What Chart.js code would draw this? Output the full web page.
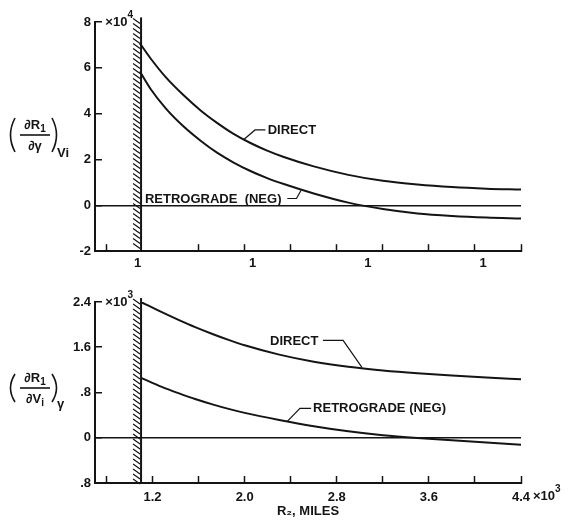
<!DOCTYPE html>
<html>
<head>
<meta charset="utf-8">
<script src="https://cdn.jsdelivr.net/npm/chart.js@4.4.1/dist/chart.umd.min.js"></script>
<style>
    html, body { margin: 0; padding: 0; background: #fff; }
    #wrap { position: relative; width: 569px; height: 525px; }
    .panel { position: absolute; left: 0; width: 569px; }
    #top { top: 0; height: 270px; }
    #bottom { top: 270px; height: 255px; }
</style>
</head>
<body>
<div id="wrap">
    <div class="panel" id="top"><canvas id="top-chart"></canvas></div>
    <div class="panel" id="bottom"><canvas id="bottom-chart"></canvas></div>
</div>
<script>
// ---- data (R2 in 10^3 miles) ----
const topR2 = [1.09, 1.18, 1.32, 1.47, 1.62, 1.76, 1.90, 2.05, 2.19, 2.34, 2.6, 2.9, 3.2, 3.5, 3.8, 4.1, 4.4];
const topDirect = [7.07, 6.43, 5.56, 4.80, 4.13, 3.60, 3.13, 2.72, 2.40, 2.11, 1.70, 1.33, 1.07, 0.91, 0.80, 0.73, 0.69];
const topRetrograde = [5.84, 5.10, 4.20, 3.44, 2.81, 2.30, 1.88, 1.50, 1.20, 0.93, 0.52, 0.12, -0.16, -0.35, -0.46, -0.53, -0.57];

const bottomR2 = [1.10, 1.28, 1.43, 1.57, 1.72, 1.86, 2.0, 2.3, 2.6, 2.9, 3.2, 3.5, 3.8, 4.1, 4.4];
const bottomDirect = [2.40, 2.22, 2.08, 1.956, 1.835, 1.73, 1.635, 1.47, 1.345, 1.255, 1.19, 1.14, 1.10, 1.065, 1.035];
const bottomRetrograde = [1.06, 0.90, 0.785, 0.685, 0.59, 0.51, 0.44, 0.315, 0.205, 0.115, 0.045, -0.005, -0.045, -0.085, -0.125];

// ---- ticks ----
const topXTicks = [0.8, 1.6, 2.0, 2.4, 2.8, 3.2, 3.6, 4.0, 4.4];
const topRowTicks = [1.07, 2.07, 3.07, 4.07];
const topRowLabels = ['1', '1', '1', '1'];
const topYTicks = [-2, 0, 2, 4, 6, 8];
const topYLabels = ['-2', '0', '2', '4', '6', '8'];

const bottomXTicks = [0.8, 1.2, 1.6, 2.0, 2.4, 2.8, 3.2, 3.6, 4.0, 4.4];
const bottomXLabels = ['', '1.2', '', '2.0', '', '2.8', '', '3.6', '', '4.4'];
const bottomYTicks = [-0.8, 0, 0.8, 1.6, 2.4];
const bottomYLabels = ['.8', '0', '.8', '1.6', '2.4'];

const wallR2 = 1.1;

const ink = '#141414';
const family = '"Liberation Sans", "DejaVu Sans", sans-serif';
const tickFont = { family: family, size: 13, weight: 'bold' };

function points(xs, ys) {
    return xs.map((x, i) => ({ x: x, y: ys[i] }));
}

function curve(data) {
    return {
        data: data,
        borderColor: ink,
        borderWidth: 2,
        pointRadius: 0,
        fill: false,
        showLine: true,
        cubicInterpolationMode: 'monotone'
    };
}

// draw text pieces with optional sub/superscripts
function richText(ctx, parts, x, y, size, align) {
    const widths = parts.map(p => {
        ctx.font = 'bold ' + (p.sub || p.sup ? size - 3 : size) + 'px ' + family;
        return ctx.measureText(p.t).width;
    });
    const total = widths.reduce((a, b) => a + b, 0);
    let cx = align === 'center' ? x - total / 2 : x;
    ctx.textAlign = 'left';
    parts.forEach((p, i) => {
        ctx.font = 'bold ' + (p.sub || p.sup ? size - 3 : size) + 'px ' + family;
        const dy = p.sub ? 3 : p.sup ? -7 : 0;
        ctx.fillText(p.t, cx, y + dy);
        cx += widths[i];
    });
}

function paren(ctx, x, top, bottom, dir) {
    const mid = (top + bottom) / 2;
    ctx.beginPath();
    ctx.moveTo(x, top);
    ctx.quadraticCurveTo(x - dir * 9, mid, x, bottom);
    ctx.stroke();
}

const notesPlugin = {
    id: 'notes',
    afterDraw(chart, args, opts) {
        const { ctx, scales } = chart;
        const xs = scales.x, ys = scales.y;
        const px = (v) => xs.getPixelForValue(v);
        const py = (v) => ys.getPixelForValue(v);
        ctx.save();
        ctx.fillStyle = ink;
        ctx.strokeStyle = ink;

        // hatched wall
        const wx = px(opts.wall.at);
        const wy1 = py(opts.wall.from), wy2 = py(opts.wall.to);
        ctx.lineWidth = 2;
        ctx.beginPath();
        ctx.moveTo(wx, wy1);
        ctx.lineTo(wx, wy2);
        ctx.stroke();
        ctx.lineWidth = 1.2;
        ctx.beginPath();
        for (let yy = wy1 + 1; yy < wy2 - 3; yy += 5) {
            ctx.moveTo(wx - 8, yy);
            ctx.lineTo(wx - 1, yy + 5);
        }
        ctx.stroke();

        // curve labels and leaders
        ctx.textBaseline = 'middle';
        opts.labels.forEach(l => {
            richText(ctx, [{ t: l.text }], px(l.at[0]), py(l.at[1]), 13, 'left');
            ctx.lineWidth = 1.2;
            ctx.beginPath();
            l.leader.forEach((p, i) => {
                if (i === 0) ctx.moveTo(px(p[0]), py(p[1]));
                else ctx.lineTo(px(p[0]), py(p[1]));
            });
            ctx.stroke();
        });

        // multipliers
        opts.multipliers.forEach(m => {
            richText(ctx, [{ t: '×10' }, { t: m.exp, sup: true }],
                px(m.at[0]) + (m.dx || 0), py(m.at[1]) + (m.dy || 0), 13, 'left');
        });

        // y axis title as a fraction
        const f = opts.frac;
        ctx.lineWidth = 1.6;
        ctx.beginPath();
        ctx.moveTo(f.cx - 15, f.bar);
        ctx.lineTo(f.cx + 15, f.bar);
        ctx.stroke();
        paren(ctx, 15, f.bar - f.half, f.bar + f.half, 1);
        paren(ctx, 52, f.bar - f.half, f.bar + f.half, -1);
        ctx.textBaseline = 'alphabetic';
        richText(ctx, f.num, f.cx, f.bar - 6, 13, 'center');
        richText(ctx, f.den, f.cx, f.bar + 15, 13, 'center');
        richText(ctx, f.sub, 57, f.bar + f.subDy, 13, 'left');
        ctx.restore();
    }
};

function gridColor(c) {
    return c.tick && c.tick.value === 0 ? ink : 'rgba(0,0,0,0)';
}

// ---- top panel ----
new Chart(document.getElementById('top-chart'), {
    type: 'scatter',
    data: {
        datasets: [
            curve(points(topR2, topDirect)),
            curve(points(topR2, topRetrograde))
        ]
    },
    options: {
        responsive: true,
        maintainAspectRatio: false,
        animation: false,
        layout: { padding: { left: 0, right: 48, top: 22, bottom: 0 } },
        scales: {
            x: {
                type: 'linear', min: 0.7, max: 4.4,
                afterBuildTicks: s => { s.ticks = topXTicks.map(v => ({ value: v })); },
                afterFit: s => { s.height = 0; },
                ticks: { display: false },
                grid: { drawOnChartArea: false, tickLength: -7, tickColor: ink, tickWidth: 1.5 },
                border: { color: ink, width: 2 }
            },
            x2: {
                type: 'linear', position: 'bottom', weight: 1, min: 0.7, max: 4.4,
                afterBuildTicks: s => { s.ticks = topRowTicks.map(v => ({ value: v })); },
                afterFit: s => { s.height = 17; },
                grid: { display: false },
                border: { display: false },
                ticks: {
                    color: ink, font: tickFont, padding: -4, maxRotation: 0, autoSkip: false,
                    callback: (v, i) => topRowLabels[i]
                }
            },
            y: {
                min: -2, max: 8,
                afterBuildTicks: s => { s.ticks = topYTicks.map(v => ({ value: v })); },
                afterFit: s => { s.width = 95; },
                ticks: { color: ink, font: tickFont, padding: 11, callback: (v, i) => topYLabels[i] },
                grid: { color: gridColor, lineWidth: 1.5, tickLength: -7, tickColor: ink, tickWidth: 1.5 },
                border: { color: ink, width: 2 }
            }
        },
        plugins: {
            legend: { display: false },
            tooltip: { enabled: false },
            notes: {
                wall: { at: wallR2, from: 8.2, to: -2 },
                labels: [
                    { text: 'DIRECT', at: [2.2, 3.29], leader: [[2.18, 3.29], [2.09, 3.29], [1.99, 2.86]] },
                    { text: 'RETROGRADE  (NEG)', at: [1.134, 0.25], leader: [[2.37, 0.3], [2.45, 0.3], [2.49, 0.66]] }
                ],
                multipliers: [{ at: [0.79, 8], exp: '4' }],
                frac: {
                    cx: 35, bar: 135, half: 17, subDy: 22,
                    num: [{ t: '∂R' }, { t: '1', sub: true }],
                    den: [{ t: '∂γ' }],
                    sub: [{ t: 'Vi' }]
                }
            }
        }
    },
    plugins: [notesPlugin]
});

// ---- bottom panel ----
new Chart(document.getElementById('bottom-chart'), {
    type: 'scatter',
    data: {
        datasets: [
            curve(points(bottomR2, bottomDirect)),
            curve(points(bottomR2, bottomRetrograde))
        ]
    },
    options: {
        responsive: true,
        maintainAspectRatio: false,
        animation: false,
        layout: { padding: { left: 0, right: 48, top: 32, bottom: 0 } },
        scales: {
            x: {
                type: 'linear', min: 0.7, max: 4.4,
                afterBuildTicks: s => { s.ticks = bottomXTicks.map(v => ({ value: v })); },
                afterFit: s => { s.height = 42; },
                ticks: {
                    color: ink, font: tickFont, padding: 14, maxRotation: 0, autoSkip: false,
                    callback: (v, i) => bottomXLabels[i]
                },
                grid: { drawOnChartArea: false, tickLength: -7, tickColor: ink, tickWidth: 1.5 },
                border: { color: ink, width: 2 },
                title: {
                    display: true, text: 'R₂, MILES', color: ink,
                    font: tickFont, padding: { top: 0, bottom: 6 }
                }
            },
            y: {
                min: -0.8, max: 2.4,
                afterBuildTicks: s => { s.ticks = bottomYTicks.map(v => ({ value: v })); },
                afterFit: s => { s.width = 95; },
                ticks: { color: ink, font: tickFont, padding: 11, callback: (v, i) => bottomYLabels[i] },
                grid: { color: gridColor, lineWidth: 1.5, tickLength: -7, tickColor: ink, tickWidth: 1.5 },
                border: { color: ink, width: 2 }
            }
        },
        plugins: {
            legend: { display: false },
            tooltip: { enabled: false },
            notes: {
                wall: { at: wallR2, from: 2.47, to: -0.8 },
                labels: [
                    { text: 'DIRECT', at: [2.22, 1.71], leader: [[2.68, 1.72], [2.855, 1.72], [3.02, 1.24]] },
                    { text: 'RETROGRADE (NEG)', at: [2.594, 0.51], leader: [[2.577, 0.52], [2.48, 0.52], [2.37, 0.29]] }
                ],
                multipliers: [
                    { at: [0.79, 2.4], exp: '3' },
                    { at: [4.4, -0.8], exp: '3', dx: 12, dy: 13 }
                ],
                frac: {
                    cx: 35, bar: 118, half: 14, subDy: 20,
                    num: [{ t: '∂R' }, { t: '1', sub: true }],
                    den: [{ t: '∂V' }, { t: 'i', sub: true }],
                    sub: [{ t: 'γ' }]
                }
            }
        }
    },
    plugins: [notesPlugin]
});
</script>
</body>
</html>
